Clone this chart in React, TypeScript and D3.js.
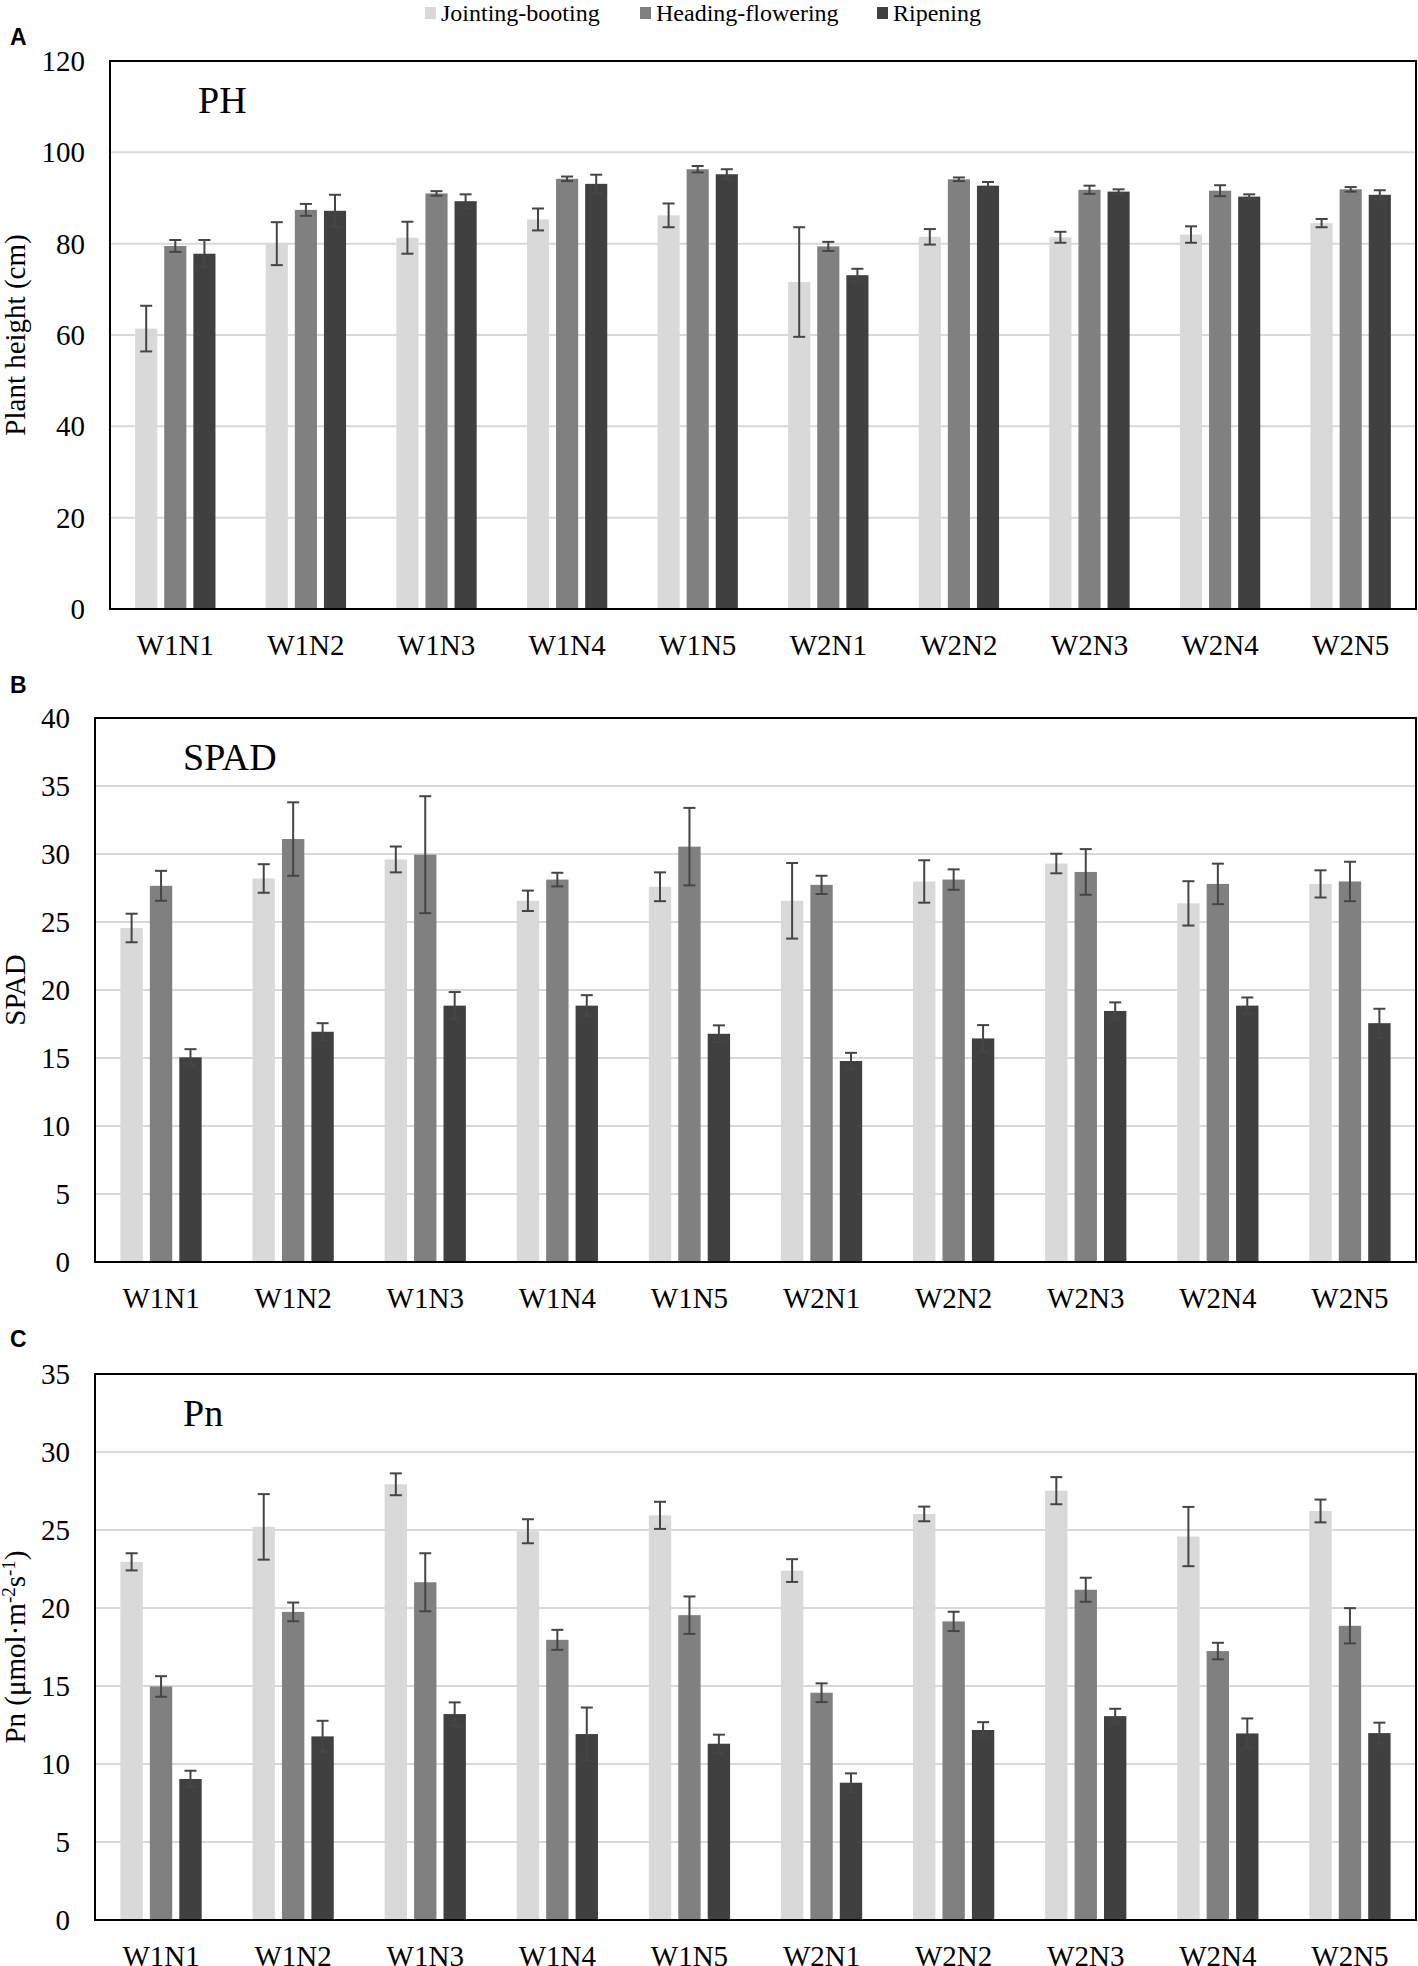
import React from 'react';
import * as d3 from 'd3';

const W = 1418;
const H = 1966;

const categories = ['W1N1', 'W1N2', 'W1N3', 'W1N4', 'W1N5', 'W2N1', 'W2N2', 'W2N3', 'W2N4', 'W2N5'];
const stages = ['Jointing-booting', 'Heading-flowering', 'Ripening'];
const stageColors = ['#d9d9d9', '#808080', '#404040'];

// Plant height (cm)
const phJoint = [61.4, 80.0, 81.3, 85.3, 86.2, 71.6, 81.5, 81.4, 82.0, 84.5];
const phJointErr = [5.0, 4.7, 3.5, 2.4, 2.6, 12.0, 1.7, 1.2, 1.8, 0.9];
const phHead = [79.5, 87.4, 91.0, 94.2, 96.3, 79.4, 94.1, 91.8, 91.6, 91.9];
const phHeadErr = [1.3, 1.3, 0.5, 0.5, 0.7, 1.0, 0.4, 0.9, 1.2, 0.5];
const phRipe = [77.8, 87.2, 89.3, 93.1, 95.2, 73.1, 92.7, 91.4, 90.3, 90.7];
const phRipeErr = [3.0, 3.5, 1.5, 2.0, 1.1, 1.4, 0.8, 0.5, 0.5, 1.0];

// SPAD
const spadJoint = [24.56, 28.2, 29.6, 26.56, 27.59, 26.56, 27.98, 29.3, 26.37, 27.8];
const spadJointErr = [1.05, 1.05, 0.95, 0.75, 1.06, 2.78, 1.56, 0.72, 1.63, 1.0];
const spadHead = [27.66, 31.1, 29.95, 28.12, 30.54, 27.73, 28.12, 28.68, 27.8, 27.98];
const spadHeadErr = [1.1, 2.7, 4.3, 0.5, 2.85, 0.67, 0.75, 1.68, 1.49, 1.45];
const spadRipe = [15.05, 16.93, 18.85, 18.85, 16.78, 14.78, 16.44, 18.46, 18.85, 17.56];
const spadRipeErr = [0.6, 0.63, 1.0, 0.77, 0.62, 0.6, 0.98, 0.63, 0.6, 1.06];

// Pn
const pnJoint = [22.96, 25.2, 27.93, 24.92, 25.94, 22.4, 26.03, 27.52, 24.58, 26.22];
const pnJointErr = [0.55, 2.1, 0.7, 0.77, 0.87, 0.73, 0.47, 0.87, 1.9, 0.73];
const pnHead = [14.97, 19.75, 21.65, 17.96, 19.54, 14.57, 19.14, 21.17, 17.24, 18.86];
const pnHeadErr = [0.66, 0.6, 1.86, 0.64, 1.2, 0.6, 0.62, 0.77, 0.53, 1.13];
const pnRipe = [9.04, 11.77, 13.2, 11.92, 11.3, 8.8, 12.18, 13.07, 11.96, 11.98];
const pnRipeErr = [0.53, 1.0, 0.75, 1.7, 0.58, 0.6, 0.5, 0.47, 0.96, 0.67];

const serif = "'Liberation Serif', 'Times New Roman', serif";
const sans = "'Liberation Sans', Arial, sans-serif";

type PanelProps = {
    letter: string;
    letterY: number;
    title: string;
    yLabel: React.ReactNode;
    top: number;
    bottom: number;
    left: number;
    right: number;
    max: number;
    step: number;
    values: number[][];
    errors: number[][];
};

const Panel: React.FC<PanelProps> = ({ letter, letterY, title, yLabel, top, bottom, left, right, max, step, values, errors }) => {
    const y = d3.scaleLinear().domain([0, max]).range([bottom, top]);
    const x0 = d3.scaleBand<string>().domain(categories).range([left, right]);
    const groupW = x0.bandwidth() * 0.615;
    const x1 = d3.scaleBand<string>().domain(stages).range([0, groupW]).paddingInner(0.24);
    const ticks = d3.range(0, max + step / 2, step);
    const cap = 6;

    return (
        <g>
            <text x={10} y={letterY} style={{ fontFamily: sans, fontWeight: 'bold', fontSize: 23 }}>{letter}</text>
            {ticks.map(t => (
                <g key={t}>
                    {t > 0 && t < max && (
                        <line x1={left} x2={right} y1={y(t)} y2={y(t)} stroke="#d9d9d9" strokeWidth={2} />
                    )}
                    <text x={left - 25} y={y(t) + 10} textAnchor="end"
                        style={{ fontFamily: serif, fontSize: 29 }}>{t}</text>
                </g>
            ))}
            {categories.map((c, i) => {
                const gx = x0(c)! + (x0.bandwidth() - groupW) / 2;
                return (
                    <g key={c}>
                        {stages.map((s, k) => {
                            const v = values[k][i];
                            const e = errors[k][i];
                            const bx = gx + x1(s)!;
                            const cx = bx + x1.bandwidth() / 2;
                            return (
                                <g key={s}>
                                    <rect x={bx} y={y(v)} width={x1.bandwidth()} height={bottom - y(v)} fill={stageColors[k]} />
                                    <line x1={cx} x2={cx} y1={y(v - e)} y2={y(v + e)} stroke="#454545" strokeWidth={2} />
                                    <line x1={cx - cap} x2={cx + cap} y1={y(v + e)} y2={y(v + e)} stroke="#454545" strokeWidth={2} />
                                    <line x1={cx - cap} x2={cx + cap} y1={y(v - e)} y2={y(v - e)} stroke="#454545" strokeWidth={2} />
                                </g>
                            );
                        })}
                        <text x={x0(c)! + x0.bandwidth() / 2} y={bottom + 46} textAnchor="middle"
                            style={{ fontFamily: serif, fontSize: 29 }}>{c}</text>
                    </g>
                );
            })}
            <rect x={left} y={top} width={right - left} height={bottom - top} fill="none" stroke="#000" strokeWidth={2} />
            <text x={left + 88} y={top + 52} style={{ fontFamily: serif, fontSize: 38 }}>{title}</text>
            <text transform={`translate(25,${(top + bottom) / 2}) rotate(-90)`} textAnchor="middle"
                style={{ fontFamily: serif, fontSize: 29 }}>{yLabel}</text>
        </g>
    );
};

const Legend: React.FC = () => {
    const xs = [425, 640, 877];
    return (
        <g>
            {stages.map((s, k) => (
                <g key={s}>
                    <rect x={xs[k]} y={7} width={11} height={12} fill={stageColors[k]} />
                    <text x={xs[k] + 16} y={21} style={{ fontFamily: serif, fontSize: 24 }}>{s}</text>
                </g>
            ))}
        </g>
    );
};

const App: React.FC = () => {
    return (
        <svg width={W} height={H} style={{ position: 'absolute', left: 0, top: 0, background: '#fff' }}>
            <rect width={W} height={H} fill="#fff" />
            <Legend />
            <Panel letter="A" letterY={45} title="PH" yLabel="Plant height (cm)"
                top={61} bottom={609} left={110} right={1416} max={120} step={20}
                values={[phJoint, phHead, phRipe]} errors={[phJointErr, phHeadErr, phRipeErr]} />
            <Panel letter="B" letterY={693} title="SPAD" yLabel="SPAD"
                top={718} bottom={1262} left={95} right={1416} max={40} step={5}
                values={[spadJoint, spadHead, spadRipe]} errors={[spadJointErr, spadHeadErr, spadRipeErr]} />
            <Panel letter="C" letterY={1347} title="Pn"
                yLabel={<>Pn (μmol·m<tspan dy={-10} style={{ fontSize: 19 }}>-2</tspan><tspan dy={10}>s</tspan><tspan dy={-10} style={{ fontSize: 19 }}>-1</tspan><tspan dy={10}>)</tspan></>}
                top={1374} bottom={1920} left={95} right={1416} max={35} step={5}
                values={[pnJoint, pnHead, pnRipe]} errors={[pnJointErr, pnHeadErr, pnRipeErr]} />
        </svg>
    );
};

export default App;
